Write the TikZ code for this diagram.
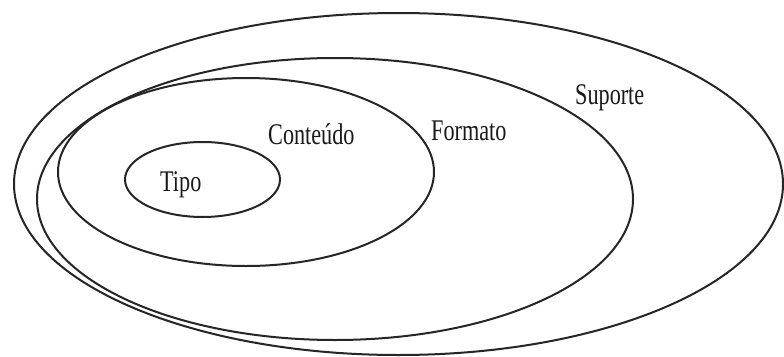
\documentclass[tikz,border=0pt]{standalone}
\usepackage{fontspec}
\newfontfamily\lblfont[FakeStretch=0.74]{Liberation Serif}
\usetikzlibrary{shapes.geometric}
\tikzset{
  ring/.style={draw=black!85, line width=2pt, ellipse, inner sep=0pt, outer sep=0pt},
  lbl/.style={anchor=base west, inner sep=0pt, font=\lblfont\fontsize{30}{30}\selectfont, text=black!90}
}
\begin{document}
\begin{tikzpicture}[x=1pt,y=-1pt]
\useasboundingbox[fill=white] (0,0) rectangle (784,356);
\node[ring, minimum width=769pt, minimum height=342pt] (suporte) at (398.5,184) {};
\node[ring, minimum width=596pt, minimum height=282pt] (formato) at (335,199) {};
\node[ring, minimum width=376pt, minimum height=188pt] (conteudo) at (246,172) {};
\node[ring, minimum width=155pt, minimum height=75pt] (tipo) at (202.5,179.5) {};
\node[lbl] (ltipo) at (160,191) {Tipo};
\node[lbl] (lconteudo) at (268,144) {Conteúdo};
\node[lbl] (lformato) at (431,140) {Formato};
\node[lbl] (lsuporte) at (575,104) {Suporte};
\end{tikzpicture}
\end{document}
